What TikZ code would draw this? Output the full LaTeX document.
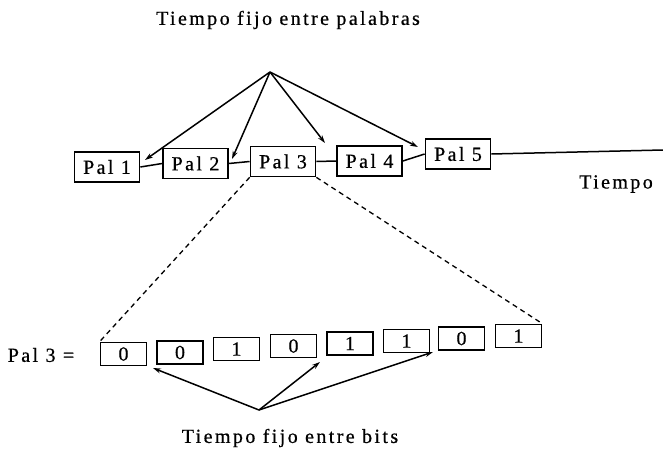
\documentclass[tikz,border=0pt]{standalone}
\usepackage{fontspec}
\setmainfont{Liberation Serif}[LetterSpace=12,FakeBold=0.6]
\usetikzlibrary{arrows.meta}
\begin{document}
\begin{tikzpicture}[x=1pt,y=-1pt,
  font=\fontsize{20}{24}\selectfont,
  word/.style={draw,line width=1.7pt,minimum width=65pt,minimum height=30pt,inner sep=0pt},
  bit/.style={draw,line width=1.7pt,minimum width=46pt,minimum height=23pt,inner sep=0pt},
  link/.style={line width=1.5pt},
  pointer/.style={line width=1.5pt,-{Stealth[length=8pt,width=5pt]}},
  zoomline/.style={line width=1.3pt,dash pattern=on 5pt off 4pt}]
\useasboundingbox (0,0) rectangle (663,455);

% labels
\node (ttitle) at (288,20) {Tiempo fijo entre palabras};
\node (taxis)  at (616,184) {Tiempo};
\node (tbits)  at (290,438) {Tiempo fijo entre bits};
\node (teq)    at (41,355) {Pal 3 =};

% words on the time line
\node[word] (p1) at (107,167)   {Pal 1};
\node[word] (p2) at (195.5,163.5) {Pal 2};
\node[word] (p3) at (283,161.5) {Pal 3};
\node[word] (p4) at (369.5,161) {Pal 4};
\node[word] (p5) at (458,154)   {Pal 5};
\coordinate (tend) at (663,150);

\draw[link] (p1.east) -- (p2.west);
\draw[link] (p2.east) -- (p3.west);
\draw[link] (p3.east) -- (p4.west);
\draw[link] (p4.east) -- (p5.west);
\draw[link] (p5.east) -- (tend);

% bits of word 3
\node[bit] (b1) at (123.5,354) {0};
\node[bit] (b2) at (180,352.5) {0};
\node[bit] (b3) at (236.5,349) {1};
\node[bit] (b4) at (293.5,346) {0};
\node[bit] (b5) at (350,343.5) {1};
\node[bit] (b6) at (406.5,341) {1};
\node[bit] (b7) at (461.5,338.5) {0};
\node[bit] (b8) at (518.5,336) {1};

% zoom from word 3 to its bits
\draw[zoomline] (p3.south west) -- (b1.north west);
\draw[zoomline] (p3.south east) -- (b8.north east);

% gaps between words
\coordinate (wsrc) at (270,72);
\coordinate (w12) at (145,160);
\coordinate (w23) at (232,159);
\coordinate (w34) at (325,143);
\coordinate (w45) at (418,147);
\foreach \t in {w12,w23,w34,w45}
  \draw[pointer] (wsrc) -- (\t);

% gaps between bits
\coordinate (bsrc) at (259,410);
\coordinate (g12) at (153,368);
\coordinate (g45) at (320,362);
\coordinate (g67) at (433,352);
\foreach \t in {g12,g45,g67}
  \draw[pointer] (bsrc) -- (\t);
\end{tikzpicture}
\end{document}
